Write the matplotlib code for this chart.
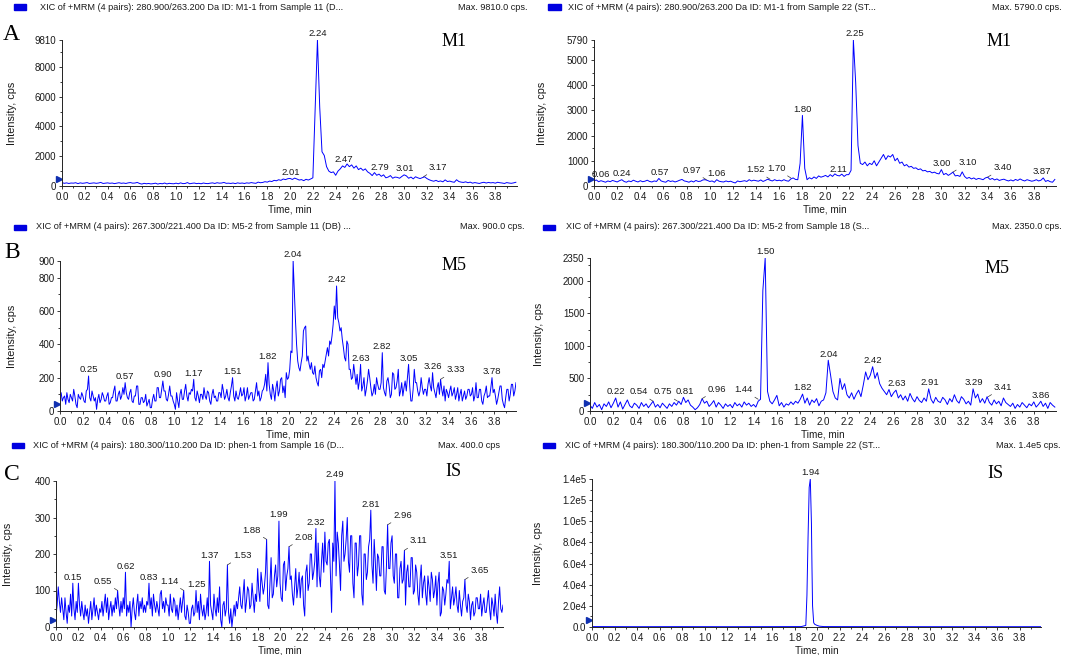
import numpy as np
import matplotlib
matplotlib.use("Agg")
import matplotlib.pyplot as plt
from matplotlib.patches import Rectangle
from matplotlib.ticker import MultipleLocator

# ---------------- data ----------------
# time grids (min): 0.02-min sampling for panels A and B-right, 0.01-min for B-left and C-left
grid_02 = np.round(np.arange(200) * 0.02, 2)
grid_01 = np.round(np.arange(400) * 0.01, 2)

a_left = [
    230, 180, 210, 170, 200, 190, 220, 160, 210, 180,
    200, 230, 170, 190, 210, 180, 200, 240, 170, 190,
    210, 180, 200, 160, 190, 220, 180, 200, 170, 210,
    230, 190, 200, 240, 170, 130, 180, 150, 170, 140,
    160, 190, 130, 170, 150, 200, 140, 180, 160, 150,
    190, 150, 210, 160, 170, 230, 150, 180, 200, 160,
    180, 150, 200, 170, 160, 190, 210, 170, 220, 190,
    200, 240, 180, 190, 170, 200, 160, 210, 180, 200,
    170, 210, 190, 230, 200, 180, 260, 220, 240, 290,
    260, 330, 300, 380, 350, 420, 380, 470, 430, 490,
    510, 440, 530, 470, 400, 430, 360, 450, 400, 470,
    550, 5200, 9810, 5300, 2300, 2050, 1300, 1000, 900, 950,
    720, 1000, 1150, 1350, 1250, 1480, 1300, 1420, 1200, 1350,
    1100, 1200, 1050, 1150, 950, 850, 700, 900, 720, 800,
    650, 750, 550, 600, 700, 520, 600, 580, 520, 640,
    750, 680, 520, 600, 480, 620, 550, 500, 560, 620,
    500, 420, 360, 320, 380, 300, 340, 280, 410, 300,
    330, 280, 250, 420, 300, 260, 240, 280, 220, 260,
    190, 230, 200, 170, 220, 250, 200, 240, 210, 230,
    190, 250, 220, 200, 170, 230, 200, 180, 210, 250,
]

a_right = [
    200, 240, 170, 210, 180, 150, 200, 170, 220, 190,
    160, 210, 250, 180, 150, 200, 170, 230, 190, 160,
    210, 170, 190, 230, 180, 160, 200, 180, 300, 200,
    170, 150, 220, 180, 200, 160, 190, 230, 260, 200,
    180, 150, 200, 160, 220, 180, 190, 240, 250, 220,
    180, 200, 150, 250, 190, 170, 160, 200, 170, 190,
    150, 120, 200, 170, 190, 210, 180, 250, 200, 230,
    210, 190, 240, 180, 220, 270, 230, 200, 250, 210,
    230, 200, 250, 210, 190, 280, 320, 260, 250, 900,
    2800, 700, 250, 330, 280, 360, 300, 400, 350, 380,
    420, 360, 450, 380, 480, 420, 400, 470, 380, 450,
    450, 620, 5790, 4100, 1600, 900, 850, 950, 800, 900,
    850, 1000, 800, 950, 1100, 1250, 1050, 1200, 1150, 1250,
    1000, 1100, 900, 950, 800, 850, 750, 780, 700, 720,
    650, 680, 600, 620, 560, 580, 520, 550, 500, 480,
    650, 450, 500, 420, 480, 550, 400, 420, 380, 560,
    380, 300, 340, 280, 320, 260, 300, 280, 250, 320,
    350, 260, 300, 240, 280, 220, 250, 270, 230, 200,
    240, 200, 260, 220, 280, 230, 200, 250, 220, 190,
    210, 250, 200, 230, 320, 180, 220, 170, 150, 260,
]

b_left = [
    100, 110, 60, 80, 90, 40, 110, 70, 50, 100, 80, 60, 130, 90, 40, 20, 100, 80, 70, 110,
    90, 60, 50, 120, 130, 210, 80, 60, 120, 90, 60, 80, 10, 70, 100, 50, 70, 110, 90, 60,
    60, 90, 110, 40, 50, 80, 80, 120, 150, 60, 60, 100, 120, 70, 90, 140, 100, 170, 110, 80,
    70, 110, 130, 60, 50, 90, 90, 150, 150, 40, 40, 80, 80, 50, 60, 100, 30, 50, 70, 20,
    20, 70, 100, 60, 60, 140, 140, 80, 80, 130, 180, 120, 120, 70, 60, 100, 150, 90, 90, 60,
    40, 10, 110, 60, 20, 100, 130, 70, 70, 120, 160, 90, 60, 110, 100, 130, 120, 190, 80, 60,
    120, 90, 50, 100, 100, 70, 140, 90, 70, 120, 110, 60, 40, 100, 130, 80, 90, 60, 60, 110,
    110, 80, 160, 120, 70, 90, 130, 80, 60, 110, 150, 200, 90, 60, 120, 80, 70, 100, 140, 90,
    100, 140, 60, 90, 140, 70, 90, 110, 110, 60, 70, 120, 170, 90, 120, 60, 80, 120, 130, 160,
    220, 120, 290, 160, 100, 70, 160, 120, 60, 140, 180, 90, 120, 190, 200, 110, 150, 80, 230, 190,
    200, 250, 360, 350, 900, 720, 550, 400, 300, 260, 240, 290, 330, 480, 500, 510, 300, 330, 280, 250,
    290, 230, 220, 270, 200, 170, 150, 240, 250, 200, 280, 260, 300, 340, 380, 330, 420, 400, 450, 520,
    630, 550, 750, 560, 530, 480, 500, 430, 380, 320, 300, 420, 400, 250, 250, 190, 200, 280, 220, 160,
    220, 130, 180, 280, 120, 150, 200, 90, 130, 180, 250, 200, 140, 90, 110, 160, 100, 200, 160, 130,
    130, 170, 350, 140, 110, 90, 180, 200, 150, 80, 100, 230, 220, 130, 140, 180, 250, 90, 120, 170,
    90, 140, 180, 120, 200, 280, 150, 60, 60, 130, 250, 170, 170, 120, 90, 120, 200, 140, 100, 130,
    130, 90, 160, 200, 150, 120, 230, 140, 110, 80, 140, 170, 100, 190, 130, 90, 150, 60, 130, 110,
    80, 120, 150, 90, 110, 140, 70, 100, 140, 60, 100, 130, 60, 90, 120, 70, 90, 130, 130, 90,
    100, 140, 60, 90, 170, 80, 80, 130, 130, 60, 40, 90, 110, 150, 80, 90, 90, 140, 200, 110,
    130, 90, 40, 70, 110, 150, 150, 70, 40, 20, 80, 130, 130, 60, 100, 160, 160, 90, 120, 170,
]

b_right = [
    90, 40, 130, 60, 100, 20, 110, 70, 140, 50,
    120, 200, 60, 140, 30, 100, 170, 80, 50, 120,
    90, 40, 130, 70, 110, 50, 100, 150, 60, 100,
    50, 120, 80, 40, 110, 70, 130, 90, 150, 100,
    210, 130, 170, 90, 60, 20, 50, 100, 190, 120,
    150, 70, 110, 160, 60, 130, 90, 40, 110, 70,
    100, 50, 130, 80, 110, 60, 140, 90, 120, 70,
    100, 60, 150, 180, 1850, 2350, 300, 150, 110, 170,
    240, 80, 130, 60, 110, 90, 140, 100, 150, 120,
    180, 260, 120, 200, 90, 170, 130, 190, 80, 150,
    170, 280, 780, 550, 300, 200, 170, 500, 330, 420,
    250, 200, 280, 180, 260, 320, 220, 400, 600, 480,
    550, 680, 500, 590, 420, 350, 300, 250, 330, 220,
    280, 320, 200, 250, 170, 230, 150, 270, 190, 140,
    220, 160, 130, 200, 150, 340, 180, 120, 210, 150,
    130, 210, 170, 100, 190, 140, 250, 160, 120, 220,
    180, 110, 150, 90, 340, 200, 260, 130, 190, 120,
    220, 130, 90, 170, 110, 150, 80, 200, 130, 100,
    70, 120, 40, 100, 60, 130, 90, 50, 110, 80,
    140, 60, 100, 150, 70, 120, 40, 130, 90, 60,
]

c_left = [
    30, 60, 110, 70, 40, 80, 50, 20, 80, 40, 10, 60, 40, 90, 30, 120, 50, 20, 70, 40,
    120, 60, 30, 70, 40, 20, 60, 30, 50, 10, 40, 70, 20, 50, 80, 30, 60, 40, 20, 50,
    40, 70, 30, 60, 90, 40, 80, 20, 50, 70, 30, 60, 40, 80, 50, 100, 60, 30, 70, 40,
    80, 50, 150, 30, 60, 40, 70, 0, 50, 80, 40, 20, 60, 90, 30, 70, 50, 80, 40, 60,
    40, 70, 60, 120, 50, 80, 30, 90, 60, 40, 70, 50, 30, 90, 100, 50, 70, 40, 80, 60,
    60, 30, 90, 50, 40, 80, 70, 30, 60, 20, 50, 80, 40, 70, 100, 30, 20, 60, 40, 10,
    10, 50, 60, 30, 40, 100, 40, 70, 20, 90, 50, 30, 60, 20, 40, 80, 30, 180, 60, 40,
    20, 90, 50, 30, 80, 40, 110, 20, 0, 60, 70, 30, 50, 170, 40, 10, 50, 0, 30, 60,
    30, 70, 50, 80, 110, 60, 50, 90, 130, 40, 70, 110, 100, 50, 60, 120, 80, 40, 90, 70,
    160, 100, 70, 150, 120, 90, 110, 150, 240, 60, 50, 120, 190, 80, 90, 140, 170, 110, 140, 290,
    120, 80, 70, 170, 180, 100, 140, 160, 220, 130, 140, 90, 60, 110, 160, 80, 110, 150, 80, 130,
    140, 60, 30, 150, 170, 100, 120, 200, 200, 130, 150, 180, 270, 110, 230, 140, 110, 180, 230, 150,
    260, 180, 170, 230, 240, 140, 40, 230, 180, 400, 140, 260, 230, 170, 100, 250, 290, 180, 200, 240,
    300, 180, 150, 250, 250, 120, 80, 230, 230, 140, 170, 250, 250, 90, 60, 200, 200, 130, 150, 220,
    240, 320, 170, 120, 240, 180, 100, 200, 190, 140, 140, 220, 220, 100, 90, 170, 280, 160, 160, 230,
    250, 140, 120, 200, 200, 80, 80, 160, 180, 120, 130, 210, 60, 150, 170, 110, 110, 190, 190, 90,
    100, 170, 150, 90, 60, 130, 170, 80, 120, 140, 90, 60, 140, 110, 70, 150, 130, 80, 100, 140,
    60, 120, 150, 30, 40, 110, 100, 60, 90, 130, 120, 180, 50, 80, 110, 60, 80, 110, 60, 40,
    100, 60, 30, 70, 80, 130, 60, 40, 90, 70, 20, 60, 70, 30, 40, 80, 80, 50, 50, 90,
    30, 60, 80, 40, 40, 70, 100, 50, 20, 80, 60, 30, 90, 40, 10, 70, 110, 50, 40, 60,
]

# internal standard, sample 22: flat baseline with one sharp peak
c_right_time = [0.00, 0.40, 0.80, 1.20, 1.60, 1.86, 1.90, 1.91, 1.92, 1.93, 1.94,
                1.95, 1.955, 1.96, 1.97, 1.98, 2.00, 2.02, 2.06, 2.40, 3.00, 3.60, 3.99]
c_right = [400, 300, 350, 300, 350, 400, 1500, 30000, 85000, 132000, 140000,
           98000, 55000, 20000, 4000, 2500, 1500, 800, 400, 350, 300, 300, 300]

# ---------------- texts ----------------
headers = [
    "XIC of +MRM (4 pairs): 280.900/263.200 Da ID: M1-1 from Sample 11 (D...",
    "XIC of +MRM (4 pairs): 280.900/263.200 Da ID: M1-1 from Sample 22 (ST...",
    "XIC of +MRM (4 pairs): 267.300/221.400 Da ID: M5-2 from Sample 11 (DB) ...",
    "XIC of +MRM (4 pairs): 267.300/221.400 Da ID: M5-2 from Sample 18 (S...",
    "XIC of +MRM (4 pairs): 180.300/110.200 Da ID: phen-1 from Sample 16 (D...",
    "XIC of +MRM (4 pairs): 180.300/110.200 Da ID: phen-1 from Sample 22 (ST...",
]
max_texts = ["Max. 9810.0 cps.", "Max. 5790.0 cps.", "Max. 900.0 cps.",
             "Max. 2350.0 cps.", "Max. 400.0 cps", "Max. 1.4e5 cps."]
tags = ["M1", "M1", "M5", "M5", "IS", "IS"]
letters = ["A", "", "B", "", "C", ""]

yticks_all = [
    [0, 2000, 4000, 6000, 8000, 9810],
    [0, 1000, 2000, 3000, 4000, 5000, 5790],
    [0, 200, 400, 600, 800, 900],
    [0, 500, 1000, 1500, 2000, 2350],
    [0, 100, 200, 300, 400],
    [0, 20000, 40000, 60000, 80000, 100000, 120000, 140000],
]
yticklabels_c_right = ["0.0", "2.0e4", "4.0e4", "6.0e4", "8.0e4", "1.0e5", "1.2e5", "1.4e5"]
yminor_all = [1000, 500, 100, 250, 50, 10000]
xticks = np.round(np.arange(0, 3.81, 0.2), 1)

peak_labels = [
    [(2.24, "c"), (2.01, "c"), (2.47, "c"), (2.79, "c"), (3.01, "c"), (3.17, "r")],
    [(0.06, "c"), (0.24, "c"), (0.57, "c"), (0.97, "l"), (1.06, "c"), (1.52, "l"),
     (1.70, "l"), (1.80, "c"), (2.11, "c"), (2.25, "c"), (3.00, "c"), (3.10, "r"),
     (3.40, "r"), (3.87, "c")],
    [(0.25, "c"), (0.57, "c"), (0.90, "c"), (1.17, "c"), (1.51, "c"), (1.82, "c"),
     (2.04, "c"), (2.42, "c"), (2.63, "c"), (2.82, "c"), (3.05, "c"), (3.26, "c"),
     (3.33, "r"), (3.78, "c")],
    [(0.22, "c"), (0.54, "l"), (0.75, "l"), (0.81, "c"), (0.96, "r"), (1.44, "l"),
     (1.50, "c"), (1.82, "c"), (2.04, "c"), (2.42, "c"), (2.63, "c"), (2.91, "c"),
     (3.29, "c"), (3.41, "r"), (3.86, "c")],
    [(0.15, "c"), (0.55, "l"), (0.62, "c"), (0.83, "c"), (1.14, "l"), (1.25, "c"),
     (1.37, "c"), (1.53, "r"), (1.88, "l"), (1.99, "c"), (2.08, "r"), (2.32, "c"),
     (2.49, "c"), (2.81, "c"), (2.96, "r"), (3.11, "r"), (3.51, "c"), (3.65, "r")],
    [(1.94, "c")],
]

series_t = [grid_02, grid_02, grid_01, grid_02, grid_01, np.array(c_right_time)]
series_y = [np.array(a_left), np.array(a_right), np.array(b_left), np.array(b_right),
            np.array(c_left), np.array(c_right)]
label_window = [0.021, 0.021, 0.0105, 0.021, 0.0105, 0.0105]

# ---------------- layout (pixels) ----------------
W, H = 1065, 655
boxes = [(62, 40, 517, 186), (594, 40, 1056, 186),
         (60, 261, 516, 411), (590, 258, 1056, 411),
         (56, 481, 503, 627), (592, 479, 1041, 627)]
header_pos = [  # rect x0, rect x1, text x, max right x, y
    (14, 26, 40, 527, 7), (548, 561, 568, 1062, 7),
    (14, 26, 36, 525, 227), (543, 555, 566, 1062, 227),
    (12, 24, 33, 500, 445), (543, 555, 565, 1060, 445)]
letter_pos = [(3, 40), None, (4, 258), None, (4, 480), None]
tag_pos = [(442, 46), (987, 46), (442, 270), (985, 273), (445, 476), (987, 478)]
ylabel_x = [17, 547, 17, 544, 13, 543]   # right edge of the rotated y label

plt.rcParams["font.family"] = ["Liberation Sans", "DejaVu Sans"]
LINE = "#0000ff"
TXT = "#1a1a1a"
fig = plt.figure(figsize=(W / 100, H / 100), dpi=100)


def px(x, y):
    return x / W, 1 - y / H


for k in range(6):
    x0, y0, x1, y1 = boxes[k]
    ax = fig.add_axes([x0 / W, 1 - y1 / H, (x1 - x0) / W, (y1 - y0) / H])
    t = series_t[k]
    y = series_y[k]
    ax.plot(t, y, color=LINE, lw=0.7)
    ymax = yticks_all[k][-1]
    ax.set_xlim(0, 3.99)
    ax.set_ylim(0, ymax)
    for s in ("top", "right"):
        ax.spines[s].set_visible(False)
    for s in ("left", "bottom"):
        ax.spines[s].set_linewidth(0.7)
        ax.spines[s].set_color("#222222")
    ax.set_xticks(xticks)
    ax.set_xticklabels([f"{v:.1f}" for v in xticks])
    ax.xaxis.set_minor_locator(MultipleLocator(0.1))
    ax.set_yticks(yticks_all[k])
    if k == 5:
        ax.set_yticklabels(yticklabels_c_right)
    else:
        ax.set_yticklabels([str(v) for v in yticks_all[k]])
    ax.yaxis.set_minor_locator(MultipleLocator(yminor_all[k]))
    ax.tick_params(which="both", direction="out", colors=TXT, labelsize=7,
                   width=0.6, pad=1.5)
    ax.tick_params(which="major", length=2.5)
    ax.tick_params(which="minor", length=1.5)
    ax.set_xlabel("Time, min", fontsize=7.2, labelpad=2, color=TXT)
    ax.set_ylabel("Intensity, cps", fontsize=7.8, color=TXT)
    ax.yaxis.set_label_coords((ylabel_x[k] - x0) / (x1 - x0), 0.5)
    ax.patch.set_alpha(0)

    # start-of-trace marker
    ax.plot([-0.006], [0.05], marker=">", ms=5, color="#1030b0",
            transform=ax.transAxes, clip_on=False)

    # peak labels
    for tl, mode in peak_labels[k]:
        mask = np.abs(t - tl) <= label_window[k]
        v = y[mask].max()
        txt = f"{tl:.2f}"
        if mode == "c":
            ax.annotate(txt, xy=(tl, v), xytext=(0, 1.2), textcoords="offset points",
                        ha="center", va="bottom", fontsize=6.8, color=TXT)
        else:
            dx = 4 if mode == "r" else -4
            ax.annotate(txt, xy=(tl, v), xytext=(dx, 3.5), textcoords="offset points",
                        ha="left" if mode == "r" else "right", va="bottom",
                        fontsize=6.8, color=TXT,
                        arrowprops=dict(arrowstyle="-", lw=0.5, color="#333333",
                                        shrinkA=0, shrinkB=0))

    # header line
    rx0, rx1, tx, mx, hy = header_pos[k]
    fig.patches.append(Rectangle(px(rx0, hy + 2.5), (rx1 - rx0) / W, 5 / H,
                                 transform=fig.transFigure, color="#0000e0"))
    fig.text(*px(tx, hy), headers[k], fontsize=6.6, va="center", ha="left", color=TXT)
    fig.text(*px(mx, hy), max_texts[k], fontsize=6.6, va="center", ha="right", color=TXT)

    # panel letter and compound tag
    if letter_pos[k] is not None:
        fig.text(*px(*letter_pos[k]), letters[k], fontsize=17, va="baseline",
                 ha="left", family=["Liberation Serif", "DejaVu Serif"])
    fig.text(*px(*tag_pos[k]), tags[k], fontsize=13, va="baseline", ha="left",
             family=["Liberation Serif", "DejaVu Serif"])

fig.savefig("out.png", dpi=100)
